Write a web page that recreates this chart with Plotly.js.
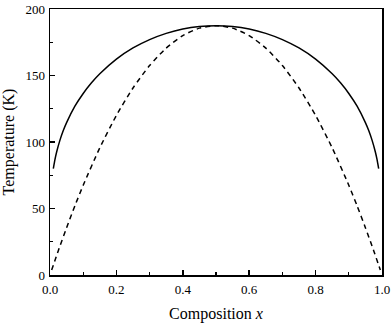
<!DOCTYPE html>
<html>
<head>
<meta charset="utf-8">
<script src="https://cdn.plot.ly/plotly-3.0.1.min.js"></script>
<style>
  html, body { margin: 0; padding: 0; background: #fff; }
  #plot { width: 392px; height: 323px; }
</style>
</head>
<body>
<div id="plot"></div>
<script>
// binodal (solid)
const binodalX = [0.01, 0.015, 0.02, 0.03, 0.04, 0.05, 0.075, 0.1, 0.125, 0.15, 0.2, 0.25, 0.3, 0.35, 0.4, 0.45, 0.5,
                  0.55, 0.6, 0.65, 0.7, 0.75, 0.8, 0.85, 0.875, 0.9, 0.925, 0.95, 0.96, 0.97, 0.98, 0.985, 0.99];
const binodalT = [80.0, 86.9, 92.5, 101.4, 108.6, 114.6, 126.9, 136.5, 144.5, 151.3, 162.3, 170.7, 177.0, 181.7, 185.0, 186.9, 187.5,
                  186.9, 185.0, 181.7, 177.0, 170.7, 162.3, 151.3, 144.5, 136.5, 126.9, 114.6, 108.6, 101.4, 92.5, 86.9, 80.0];

// spinodal (dashed)
const spinodalX = [0.005, 0.025, 0.05, 0.075, 0.1, 0.15, 0.2, 0.25, 0.3, 0.35, 0.4, 0.45, 0.5,
                   0.55, 0.6, 0.65, 0.7, 0.75, 0.8, 0.85, 0.9, 0.925, 0.95, 0.975, 0.995];
const spinodalT = [3.7, 18.3, 35.6, 52.0, 67.5, 95.6, 120.0, 140.6, 157.5, 170.6, 180.0, 185.6, 187.5,
                   185.6, 180.0, 170.6, 157.5, 140.6, 120.0, 95.6, 67.5, 52.0, 35.6, 18.3, 3.7];

const xTicks = [0, 0.2, 0.4, 0.6, 0.8, 1.0];
const xTickText = ['0.0', '0.2', '0.4', '0.6', '0.8', '1.0'];
const yTicks = [0, 50, 100, 150, 200];

const font = "'Liberation Serif', 'Times New Roman', Times, serif";

const traces = [
  {
    x: binodalX, y: binodalT, mode: 'lines', type: 'scatter',
    line: { color: '#000', width: 1.5, shape: 'spline', smoothing: 0.6 }
  },
  {
    x: spinodalX, y: spinodalT, mode: 'lines', type: 'scatter',
    line: { color: '#000', width: 1.5, dash: '5px,4px', shape: 'spline', smoothing: 0.6 }
  }
];

const axisCommon = {
  showline: true, mirror: true, linecolor: '#000', linewidth: 1.5,
  ticks: 'inside', ticklen: 5, tickwidth: 1.5, tickcolor: '#000',
  showgrid: false, zeroline: false, automargin: false,
  tickfont: { family: font, size: 13, color: '#000' }
};

const layout = {
  width: 392, height: 323,
  margin: { l: 50, r: 10, t: 9, b: 48 },
  paper_bgcolor: '#fff', plot_bgcolor: '#fff',
  showlegend: false,
  font: { family: font, color: '#000' },
  xaxis: Object.assign({}, axisCommon, {
    range: [0, 1], tickvals: xTicks, ticktext: xTickText, ticklabelstandoff: 2,
    minor: { tickvals: [0.1, 0.3, 0.5, 0.7, 0.9], ticks: 'inside', ticklen: 3, tickwidth: 1.2, tickcolor: '#000', showgrid: false },
    title: { text: 'Composition <i>x</i>', font: { family: font, size: 16, color: '#000' }, standoff: 12 }
  }),
  yaxis: Object.assign({}, axisCommon, {
    range: [0, 200], tickvals: yTicks, ticktext: yTicks.map(String), ticklabelstandoff: 1,
    minor: { tickvals: [25, 75, 125, 175], ticks: 'inside', ticklen: 3, tickwidth: 1.2, tickcolor: '#000', showgrid: false },
    title: { text: 'Temperature (K)', font: { family: font, size: 16, color: '#000' }, standoff: 10 }
  })
};

Plotly.newPlot('plot', traces, layout, { displayModeBar: false, staticPlot: true });
</script>
</body>
</html>
